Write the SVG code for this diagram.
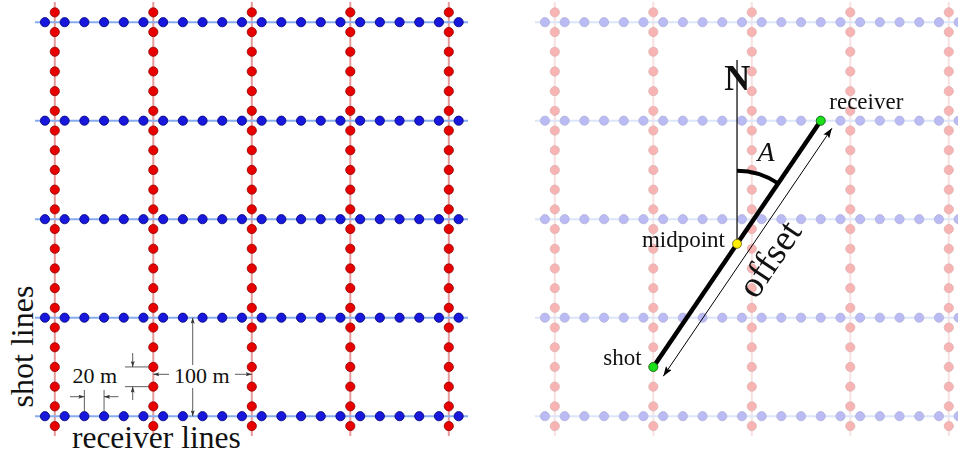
<svg xmlns="http://www.w3.org/2000/svg" xmlns:xlink="http://www.w3.org/1999/xlink" width="958" height="455" viewBox="0 0 958 455">
<style>
.rl{stroke:#e69a9a;stroke-width:2;fill:none}
.bl{stroke:#86acef;stroke-width:2;fill:none}
.rd{fill:#e80000;stroke:#900000;stroke-width:0.8}
.bd{fill:#1818dc;stroke:#000078;stroke-width:0.8}
.t{font-family:"Liberation Serif","DejaVu Serif",serif;fill:#111}
.dim{stroke:#333;stroke-width:0.8;fill:none}
.dima{stroke:#333;stroke-width:0.8;fill:none;marker-end:url(#sa)}
</style>
<defs>
<marker id="sa" viewBox="0 0 6 4" refX="6" refY="2" markerWidth="6" markerHeight="4" markerUnits="userSpaceOnUse" orient="auto-start-reverse"><path d="M0,0 L6,2 L0,4 L1.2,2 z" fill="#333"/></marker>
<marker id="ba" viewBox="0 0 10 7" refX="10" refY="3.5" markerWidth="10" markerHeight="7" markerUnits="userSpaceOnUse" orient="auto-start-reverse"><path d="M0,0 L10,3.5 L0,7 L2,3.5 z" fill="#000"/></marker>
<g id="redcol">
<line class="rl" x1="0" y1="2" x2="0" y2="436"/>
<circle class="rd" r="4.6" cx="0" cy="12.35"/><circle class="rd" r="4.6" cx="0" cy="32.05"/><circle class="rd" r="4.6" cx="0" cy="51.75"/><circle class="rd" r="4.6" cx="0" cy="71.45"/><circle class="rd" r="4.6" cx="0" cy="91.15"/><circle class="rd" r="4.6" cx="0" cy="110.85"/><circle class="rd" r="4.6" cx="0" cy="130.55"/><circle class="rd" r="4.6" cx="0" cy="150.25"/><circle class="rd" r="4.6" cx="0" cy="169.95"/><circle class="rd" r="4.6" cx="0" cy="189.65"/><circle class="rd" r="4.6" cx="0" cy="209.35"/><circle class="rd" r="4.6" cx="0" cy="229.05"/><circle class="rd" r="4.6" cx="0" cy="248.75"/><circle class="rd" r="4.6" cx="0" cy="268.45"/><circle class="rd" r="4.6" cx="0" cy="288.15"/><circle class="rd" r="4.6" cx="0" cy="307.85"/><circle class="rd" r="4.6" cx="0" cy="327.55"/><circle class="rd" r="4.6" cx="0" cy="347.25"/><circle class="rd" r="4.6" cx="0" cy="366.95"/><circle class="rd" r="4.6" cx="0" cy="386.65"/><circle class="rd" r="4.6" cx="0" cy="406.35"/><circle class="rd" r="4.6" cx="0" cy="426.05"/>
</g>
<g id="bluerow">
<line class="bl" x1="35" y1="0" x2="468" y2="0"/>
<circle class="bd" r="4.6" cy="0" cx="44.95"/><circle class="bd" r="4.6" cy="0" cx="64.65"/><circle class="bd" r="4.6" cy="0" cx="84.35"/><circle class="bd" r="4.6" cy="0" cx="104.05"/><circle class="bd" r="4.6" cy="0" cx="123.75"/><circle class="bd" r="4.6" cy="0" cx="143.45"/><circle class="bd" r="4.6" cy="0" cx="163.15"/><circle class="bd" r="4.6" cy="0" cx="182.85"/><circle class="bd" r="4.6" cy="0" cx="202.55"/><circle class="bd" r="4.6" cy="0" cx="222.25"/><circle class="bd" r="4.6" cy="0" cx="241.95"/><circle class="bd" r="4.6" cy="0" cx="261.65"/><circle class="bd" r="4.6" cy="0" cx="281.35"/><circle class="bd" r="4.6" cy="0" cx="301.05"/><circle class="bd" r="4.6" cy="0" cx="320.75"/><circle class="bd" r="4.6" cy="0" cx="340.45"/><circle class="bd" r="4.6" cy="0" cx="360.15"/><circle class="bd" r="4.6" cy="0" cx="379.85"/><circle class="bd" r="4.6" cy="0" cx="399.55"/><circle class="bd" r="4.6" cy="0" cx="419.25"/><circle class="bd" r="4.6" cy="0" cx="438.95"/><circle class="bd" r="4.6" cy="0" cx="458.65"/>
</g>
</defs>
<rect width="958" height="455" fill="#fff"/>

<g id="grid-left">
<use href="#redcol" x="54.8"/><use href="#redcol" x="153.3"/><use href="#redcol" x="251.8"/><use href="#redcol" x="350.3"/><use href="#redcol" x="448.8"/>
<use href="#bluerow" y="22.2"/><use href="#bluerow" y="120.7"/><use href="#bluerow" y="219.2"/><use href="#bluerow" y="317.7"/><use href="#bluerow" y="416.2"/>
</g>
<use id="grid-right" href="#grid-left" x="500" opacity="0.3"/>

<g id="dimensions">
<line class="dim" x1="84.35" y1="390" x2="84.35" y2="411.5"/>
<line class="dim" x1="104.05" y1="390" x2="104.05" y2="411.5"/>
<line class="dima" x1="70" y1="396.7" x2="84.35" y2="396.7"/>
<line class="dima" x1="118.5" y1="396.7" x2="104.05" y2="396.7"/>
<text class="t" x="94.7" y="382.7" font-size="22" text-anchor="middle">20 m</text>
<line class="dim" x1="125" y1="366.95" x2="148.7" y2="366.95"/>
<line class="dim" x1="125" y1="386.65" x2="148.7" y2="386.65"/>
<line class="dima" x1="132.7" y1="353" x2="132.7" y2="366.95"/>
<line class="dima" x1="132.7" y1="400" x2="132.7" y2="386.65"/>
<line class="dima" x1="192.7" y1="365" x2="192.7" y2="317.7"/>
<line class="dima" x1="192.7" y1="388" x2="192.7" y2="416.2"/>
<line class="dima" x1="169" y1="374.3" x2="153.3" y2="374.3"/>
<line class="dima" x1="235" y1="374.3" x2="251.8" y2="374.3"/>
<text class="t" x="201.7" y="382.7" font-size="22" text-anchor="middle">100 m</text>
</g>

<g id="axis-labels">
<text class="t" x="156.3" y="447.5" font-size="31.5" text-anchor="middle">receiver lines</text>
<text class="t" transform="translate(33,346.5) rotate(-90)" font-size="32" text-anchor="middle">shot lines</text>
</g>

<g id="connectors">
<line x1="737.03" y1="60" x2="737.03" y2="243.83" stroke="#111" stroke-width="1.3"/>
<line x1="653.3" y1="366.95" x2="820.75" y2="120.7" stroke="#000" stroke-width="4.5"/>
<path d="M737.03,170.83 A73,73 0 0 1 778.08,183.47" fill="none" stroke="#000" stroke-width="4"/>
<line x1="663.3" y1="376.2" x2="831.9" y2="128.3" stroke="#000" stroke-width="1" marker-start="url(#ba)" marker-end="url(#ba)"/>
</g>

<g id="north"><text class="t" x="737.3" y="90" font-size="36" font-weight="bold" text-anchor="middle">N</text></g>
<g id="angle"><text class="t" x="766" y="161" font-size="28" font-style="italic" text-anchor="middle">A</text></g>
<g id="offset"><text class="t" transform="translate(779.4,265.8) rotate(-55.79)" font-size="37" text-anchor="middle">offset</text></g>

<g id="receiver">
<circle cx="820.75" cy="120.7" r="4.5" fill="#19e019" stroke="#0a6a0a" stroke-width="0.8"/>
<text class="t" x="829.3" y="109.3" font-size="23">receiver</text>
</g>
<g id="midpoint">
<circle cx="737.03" cy="243.83" r="4.5" fill="#ffee00" stroke="#6a6000" stroke-width="0.8"/>
<text class="t" x="725" y="246.7" font-size="23" text-anchor="end">midpoint</text>
</g>
<g id="shot">
<circle cx="653.3" cy="366.95" r="4.5" fill="#19e019" stroke="#0a6a0a" stroke-width="0.8"/>
<text class="t" x="641.7" y="365" font-size="23" text-anchor="end">shot</text>
</g>
</svg>
